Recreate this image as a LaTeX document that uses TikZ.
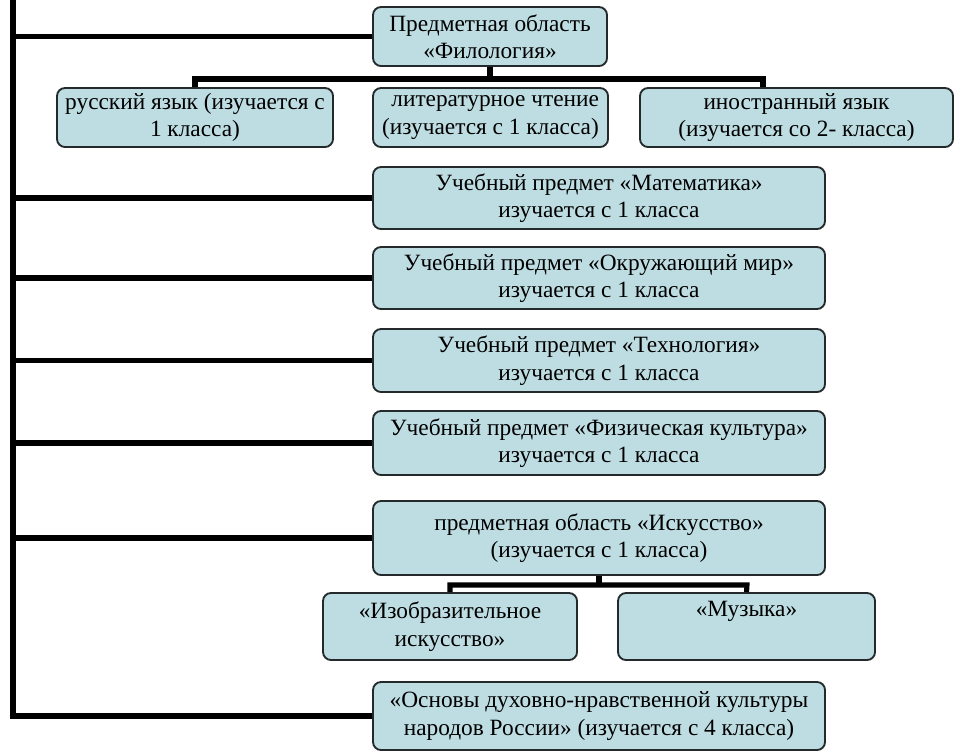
\documentclass[tikz,border=0pt]{standalone}
\usepackage{fontspec}
\setmainfont{Liberation Serif}
\usetikzlibrary{positioning}
\definecolor{boxfill}{RGB}{190,221,226}
\definecolor{boxline}{RGB}{36,42,44}
\tikzset{
  subj/.style = {draw=boxline, fill=boxfill, line width=1.4pt,
                 rounded corners=6pt, align=center, inner sep=1pt,
                 font=\fontsize{17.5}{20.5}\selectfont},
  wide/.style = {subj, minimum width=339pt},
  link/.style = {line width=3.8pt, line join=miter},
}

\begin{document}
\begin{tikzpicture}[x=0.75pt, y=-0.75pt]
\useasboundingbox (0,0) rectangle (977,751);
\node (filol)[subj, minimum width=175.5pt, minimum height=44.25pt] at (490,36.5)
      {Предметная область\\«Филология»};
\node (rus)[subj, minimum width=207pt, minimum height=44.25pt] at (195,117.5)
      {русский язык (изучается с\\1 класса)};
\node (lit)[subj, minimum width=176.25pt, minimum height=44.25pt] at (490.5,117.5)
      {\hspace{0.4em}литературное чтение\\(изучается с 1 класса)};
\node (inostr)[subj, minimum width=234.75pt, minimum height=44.25pt] at (796.5,117.5)
      {иностранный язык\\(изучается со 2- класса)};
\node (matem)[wide, minimum height=46.5pt] at (599,198)
      {Учебный предмет «Математика»\\изучается с 1 класса};
\node (okr)[wide, minimum height=46.5pt] at (599,278)
      {Учебный предмет «Окружающий мир»\\изучается с 1 класса};
\node (tehn)[wide, minimum height=47.25pt] at (599,360.5)
      {Учебный предмет «Технология»\\изучается с 1 класса};
\node (fizk)[wide, minimum height=48pt] at (599,443)
      {Учебный предмет «Физическая культура»\\изучается с 1 класса};
\node (isk)[wide, minimum height=55.5pt] at (599,538)
      {предметная область «Искусство»\\(изучается с 1 класса)};
\node (izo)[subj, minimum width=190.5pt, minimum height=50.25pt] at (450,626.5)
      {«Изобразительное\\искусство»};
\node (muz)[subj, minimum width=192.75pt, minimum height=50.25pt] at (746.5,626.5)
      {«Музыка»\\\strut};
\node (osn)[wide, minimum height=51pt] at (599,716)
      {«Основы духовно-нравственной культуры\\народов России» (изучается с 4 класса)};

\coordinate (top) at (13,0);
\coordinate (fbar) at (763,79);
\coordinate (ibar) at (747,585);
\draw[link] (top) |- (osn.west);
\foreach \n in {filol,matem,okr,tehn,fizk,isk}
  \draw[link] (\n.west) -- (\n.west -| top);
\draw[link] (filol.south) -- (filol.south |- fbar);
\draw[link] (rus.north) |- (fbar) -- (fbar |- inostr.north);
\draw[link] (isk.south) -- (isk.south |- ibar);
\draw[link] (izo.north) |- (ibar) -- (muz.north);
\end{tikzpicture}
\end{document}
